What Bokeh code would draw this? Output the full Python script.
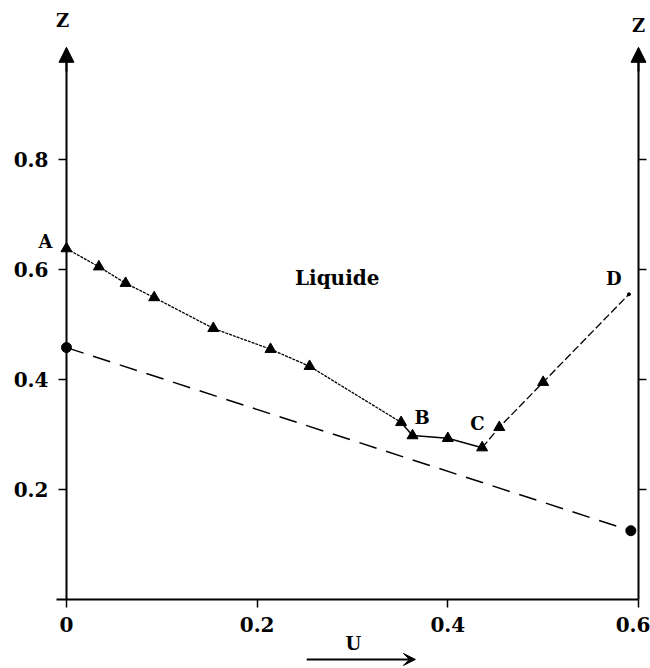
from bokeh.plotting import figure
from bokeh.models import (Range1d, LinearAxis, FixedTicker, Label, Arrow,
                          NormalHead, VeeHead)
from bokeh.embed import file_html
from bokeh.resources import INLINE

# ---- data ----
ab_u = [0.0, 0.034, 0.062, 0.092, 0.154, 0.214, 0.255, 0.351]
ab_z = [0.638, 0.605, 0.575, 0.549, 0.493, 0.455, 0.424, 0.322]
bc_u = [0.351, 0.363, 0.400, 0.436]
bc_z = [0.322, 0.298, 0.293, 0.276]
cd_u = [0.436, 0.454, 0.500, 0.590]
cd_z = [0.276, 0.313, 0.395, 0.555]
tri_u = [0.0, 0.034, 0.062, 0.092, 0.154, 0.214, 0.255, 0.351, 0.363, 0.400, 0.436, 0.454, 0.500]
tri_z = [0.638, 0.605, 0.575, 0.549, 0.493, 0.455, 0.424, 0.322, 0.298, 0.293, 0.276, 0.313, 0.395]
low_u = [0.0, 0.592]
low_z = [0.458, 0.125]

x_ticks = [0, 0.2, 0.4, 0.6]
y_ticks = [0.2, 0.4, 0.6, 0.8]

FONT = "DejaVu Serif"

p = figure(width=650, height=668,
           x_range=Range1d(-0.0692, 0.6126), y_range=Range1d(-0.1255, 1.0891),
           output_backend="svg", toolbar_location=None,
           x_axis_location=None, y_axis_location=None,
           min_border_left=0, min_border_top=0, min_border_bottom=0,
           min_border_right=0)
p.outline_line_color = None
p.background_fill_color = "white"
p.grid.grid_line_color = None


def style_axis(ax):
    ax.axis_line_width = 2
    ax.axis_line_color = "black"
    ax.major_tick_line_width = 1.5
    ax.major_tick_in = 0
    ax.major_tick_out = 8
    ax.minor_tick_line_color = None
    ax.major_label_text_font = FONT
    ax.major_label_text_font_style = "bold"
    ax.major_label_text_font_size = "20px"
    ax.major_label_text_color = "black"
    ax.major_label_standoff = 10


xaxis = LinearAxis(ticker=FixedTicker(ticks=x_ticks), fixed_location=0, bounds=(-0.01, 0.6))
style_axis(xaxis)
xaxis.major_label_overrides = {0: "0", 0.2: "0.2", 0.4: "0.4", 0.6: "0.6"}
p.add_layout(xaxis, "below")

yaxis = LinearAxis(ticker=FixedTicker(ticks=y_ticks), fixed_location=0, bounds=(0, 1.0))
style_axis(yaxis)
yaxis.major_label_overrides = {0.2: "0.2", 0.4: "0.4", 0.6: "0.6", 0.8: "0.8"}
p.add_layout(yaxis, "left")

raxis = LinearAxis(ticker=FixedTicker(ticks=y_ticks), fixed_location=0.6, bounds=(0, 1.0))
style_axis(raxis)
raxis.major_label_overrides = {0.2: "", 0.4: "", 0.6: "", 0.8: ""}
raxis.major_label_standoff = 0
p.add_layout(raxis, "right")

# curves
p.line(ab_u, ab_z, line_color="black", line_width=1.3, line_dash="3 1")
p.line(bc_u, bc_z, line_color="black", line_width=1.5)
p.line(cd_u, cd_z, line_color="black", line_width=1.3, line_dash="8 3")
p.line(low_u, low_z, line_color="black", line_width=1.5, line_dash="18 10")
p.scatter(tri_u, tri_z, marker="triangle", size=11, color="black")
p.scatter(low_u, low_z, marker="circle", size=10, color="black")
p.scatter([cd_u[-1]], [cd_z[-1]], marker="circle", size=3, color="black")

# axis arrows
for xa in (0.0, 0.6):
    p.add_layout(Arrow(end=NormalHead(size=15, fill_color="black", line_color="black"),
                       x_start=xa, y_start=0.96, x_end=xa, y_end=1.004,
                       line_width=2, line_color="black"))
p.add_layout(Arrow(end=VeeHead(size=12, fill_color="black", line_color="black"),
                   x_start=0.252, y_start=-0.109, x_end=0.366, y_end=-0.109,
                   line_width=2, line_color="black"))


def lab(txt, x, y, size="18px"):
    p.add_layout(Label(x=x, y=y, text=txt, text_font=FONT, text_font_style="bold",
                       text_font_size=size, text_align="center",
                       text_baseline="middle", text_color="black"))


lab("Z", -0.004, 1.053)
lab("Z", 0.600, 1.044)
lab("A", -0.022, 0.651)
lab("B", 0.373, 0.331)
lab("C", 0.431, 0.320)
lab("D", 0.574, 0.583)
lab("Liquide", 0.284, 0.585, "20px")
lab("U", 0.301, -0.080)

open("out.html", "w").write(file_html(p, INLINE))
